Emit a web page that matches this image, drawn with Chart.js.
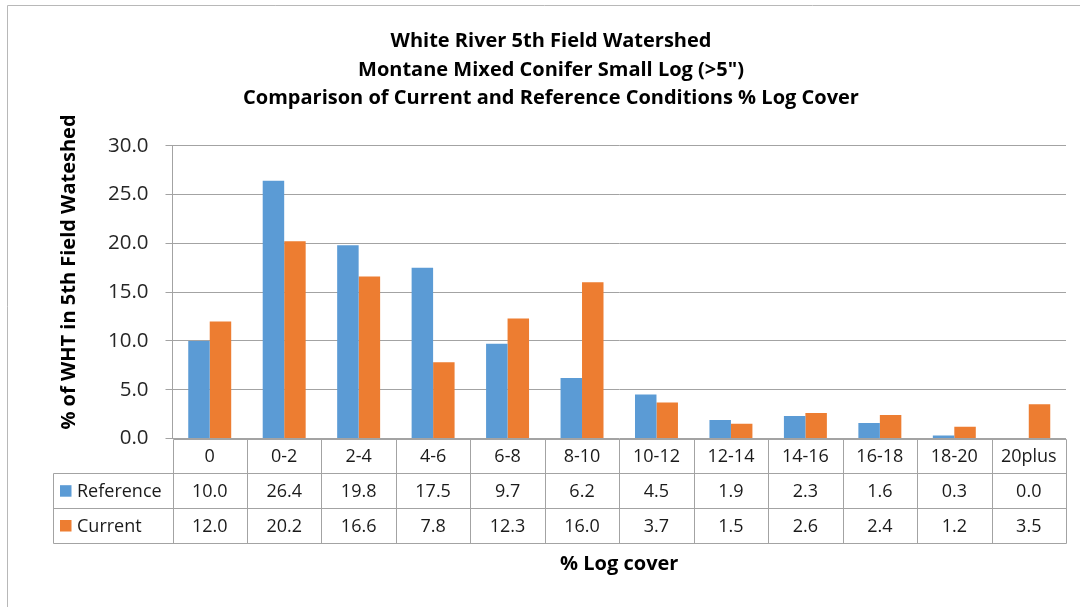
<!DOCTYPE html>
<html>
<head>
<meta charset="utf-8">
<title>White River 5th Field Watershed – Small Log Cover</title>
<script src="https://cdn.jsdelivr.net/npm/chart.js@4/dist/chart.umd.min.js"></script>
<style>
  html, body { margin: 0; padding: 0; background: #ffffff; }
  #wrap { position: relative; width: 1080px; height: 607px; }
</style>
</head>
<body>
<div id="wrap"><canvas id="chart"></canvas></div>
<script>
// Log cover classes (x categories)
const coverClasses = ['0', '0-2', '2-4', '4-6', '6-8', '8-10', '10-12', '12-14', '14-16', '16-18', '18-20', '20plus'];
// % of WHT in the 5th field watershed, per cover class
const referenceValues = [10.0, 26.4, 19.8, 17.5, 9.7, 6.2, 4.5, 1.9, 2.3, 1.6, 0.3, 0.0];
const currentValues   = [12.0, 20.2, 16.6, 7.8, 12.3, 16.0, 3.7, 1.5, 2.6, 2.4, 1.2, 3.5];
// Series names
const seriesNames = ['Reference', 'Current'];
// Value axis ticks
const yTicks = [0, 5, 10, 15, 20, 25, 30];

const titleLines = [
  'White River 5th Field Watershed',
  'Montane Mixed Conifer Small Log (>5")',
  'Comparison of Current and Reference Conditions % Log Cover'
];
const yTitle = '% of WHT in 5th Field Wateshed';
const xTitle = '% Log cover';

const FONT = '"Open Sans", Lato, "Liberation Sans", sans-serif';
const BLUE = '#5B9BD5';
const ORANGE = '#ED7D31';
const LINE = '#a3a3a3';
const TEXT = '#1a1a1a';

// Frame around the chart object (left and top edges fall inside the canvas)
const framePlugin = {
  id: 'frame',
  beforeDraw(chart) {
    const ctx = chart.ctx;
    ctx.save();
    ctx.strokeStyle = '#b8b8b8';
    ctx.lineWidth = 1;
    ctx.beginPath();
    ctx.moveTo(7.5, chart.height + 2);
    ctx.lineTo(7.5, 5.5);
    ctx.lineTo(chart.width + 2, 5.5);
    ctx.stroke();
    ctx.restore();
  }
};

// Vertical value-axis title
const yTitlePlugin = {
  id: 'yTitle',
  afterDraw(chart) {
    const ctx = chart.ctx;
    ctx.save();
    ctx.translate(69, 272);
    ctx.rotate(-Math.PI / 2);
    ctx.font = 'bold 20px ' + FONT;
    ctx.fillStyle = '#000';
    ctx.textAlign = 'center';
    ctx.textBaseline = 'middle';
    ctx.fillText(yTitle, 0, 0);
    ctx.restore();
  }
};

// Data table under the plot: category labels, legend keys and values
const tablePlugin = {
  id: 'dataTable',
  afterDraw(chart) {
    const ctx = chart.ctx;
    const area = chart.chartArea;
    const x = chart.scales.x;
    const n = chart.data.labels.length;
    const colW = (area.right - area.left) / n;
    const rowH = 34.8;
    const top = area.bottom;
    const legendLeft = 52.5;
    const rows = chart.data.datasets.length + 1;
    const bottom = top + rows * rowH;
    const px = v => Math.round(v) + 0.5;

    ctx.save();
    ctx.strokeStyle = LINE;
    ctx.lineWidth = 1;
    ctx.beginPath();
    // horizontal rules
    ctx.moveTo(px(area.left), px(top)); ctx.lineTo(px(area.right), px(top));
    for (let r = 1; r <= rows; r++) {
      const y = px(top + r * rowH);
      ctx.moveTo(px(legendLeft), y); ctx.lineTo(px(area.right), y);
    }
    // vertical rules between categories
    for (let i = 0; i <= n; i++) {
      const xx = px(area.left + i * colW);
      ctx.moveTo(xx, px(top)); ctx.lineTo(xx, px(bottom));
    }
    ctx.moveTo(px(legendLeft), px(top + rowH)); ctx.lineTo(px(legendLeft), px(bottom));
    ctx.stroke();

    ctx.font = '18px ' + FONT;
    ctx.fillStyle = TEXT;
    ctx.textAlign = 'center';
    ctx.textBaseline = 'middle';
    // category header row
    chart.data.labels.forEach((lab, i) => {
      ctx.fillText(lab, x.getPixelForValue(i), top + rowH / 2 + 1);
    });
    // dataset rows
    chart.data.datasets.forEach((ds, d) => {
      const cy = top + (d + 1) * rowH + rowH / 2 + 1;
      ctx.fillStyle = ds.backgroundColor;
      ctx.fillRect(60, cy - 6.5, 11.5, 11.5);
      ctx.fillStyle = TEXT;
      ctx.textAlign = 'left';
      ctx.fillText(ds.label, 77, cy);
      ctx.textAlign = 'center';
      ds.data.forEach((v, i) => {
        ctx.fillText(v.toFixed(1), x.getPixelForValue(i), cy);
      });
    });
    ctx.restore();
  }
};

new Chart(document.getElementById('chart'), {
  type: 'bar',
  data: {
    labels: coverClasses,
    datasets: [
      { label: seriesNames[0], data: referenceValues, backgroundColor: BLUE },
      { label: seriesNames[1], data: currentValues, backgroundColor: ORANGE }
    ]
  },
  options: {
    responsive: true,
    maintainAspectRatio: false,
    animation: false,
    devicePixelRatio: 1,
    layout: { padding: { left: 36, right: 14, top: 0, bottom: 0 } },
    datasets: {
      bar: { categoryPercentage: 0.577, barPercentage: 1.0 }
    },
    plugins: {
      legend: { display: false },
      tooltip: { enabled: false },
      title: {
        display: true,
        text: titleLines,
        color: '#000',
        font: { family: FONT, size: 20, weight: 'bold', lineHeight: 28.5 / 20 },
        padding: { top: 27.5, bottom: 32.7 }
      }
    },
    scales: {
      x: {
        grid: { display: false, drawTicks: false },
        border: { display: false },
        ticks: { display: false },
        title: {
          display: true,
          text: xTitle,
          color: '#000',
          font: { family: FONT, size: 20, weight: 'bold' },
          padding: { top: 0, bottom: 31 }
        },
        afterFit(scale) { scale.height = 607 - 438.5; }
      },
      y: {
        min: 0,
        max: 30,
        afterBuildTicks(scale) { scale.ticks = yTicks.map(v => ({ value: v })); },
        ticks: {
          color: '#262626',
          font: { family: FONT, size: 20.5 },
          padding: 17,
          callback: v => Number(v).toFixed(1)
        },
        grid: { color: LINE, lineWidth: 1, tickLength: 7, drawTicks: true },
        border: { display: true, color: LINE, width: 1 },
        afterFit(scale) { scale.width = 172.5 - 36; }
      }
    }
  },
  plugins: [framePlugin, yTitlePlugin, tablePlugin]
});
</script>
</body>
</html>
